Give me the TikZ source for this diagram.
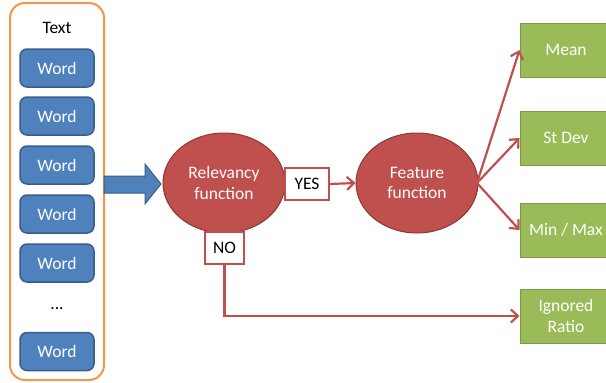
\documentclass[tikz,border=0pt]{standalone}
\usepackage{fontspec}
\setmainfont{Carlito}
\usetikzlibrary{arrows.meta,shapes.geometric}
\definecolor{orangeb}{HTML}{F79646}
\definecolor{blueF}{HTML}{4F81BD}
\definecolor{blueD}{HTML}{385D8A}
\definecolor{redF}{HTML}{C0504D}
\definecolor{redD}{HTML}{8C3836}
\definecolor{greenF}{HTML}{9BBB59}
\definecolor{greenD}{HTML}{71893F}
\tikzset{
  txt/.style={font=\fontsize{17.5}{20.5}\selectfont},
  wordbox/.style={draw=blueD, fill=blueF, line width=1.5pt, rounded corners=7pt, minimum width=74pt, minimum height=38pt, text=white, txt},
  redell/.style={ellipse, draw=redD, fill=redF, line width=1pt, minimum width=122pt, minimum height=100pt, text=white, align=center, txt, inner sep=0pt},
  lab/.style={draw=redF, fill=white, line width=1.5pt, text=black, txt, inner sep=0pt},
  greenbox/.style={draw=greenD!70!greenF, fill=greenF, line width=1pt, minimum width=92pt, minimum height=54pt, text=white, align=center, txt, inner sep=0pt},
  redarrow/.style={draw=redF, line width=2.2pt, -{Straight Barb[length=7pt,width=13pt,line width=2.2pt]}},
}
\begin{document}
\begin{tikzpicture}[x=1pt,y=-1pt]
\useasboundingbox (0,0) rectangle (606,383);
\begin{scope}
\clip (0,0) rectangle (606,383);
% container
\node[draw=orangeb, line width=2pt, rounded corners=15pt, minimum width=94pt, minimum height=377pt, inner sep=0pt] (textbox) at (57,191.5) {};
\node[txt, text=black] (textlbl) at (57,28) {Text};
\node[wordbox] (w1) at (57,68) {Word};
\node[wordbox] (w2) at (57,116) {Word};
\node[wordbox] (w3) at (57,165) {Word};
\node[wordbox] (w4) at (57,214) {Word};
\node[wordbox] (w5) at (57,263) {Word};
\node[txt] (dots) at (57,309) {...};
\node[wordbox] (w6) at (57,351.5) {Word};
% big blue arrow
\coordinate (tip) at (161,184);
\draw[draw=blueD, fill=blueF, line width=1pt] (104,176) -- (145,176) -- (145,164) -- (tip) -- (145,204) -- (145,193) -- (104,193) -- cycle;
% ellipses
\node[redell] (rel) at (224,183) {Relevancy\\function};
\node[redell] (feat) at (417,183) {Feature\\function};
% YES / NO
\node[lab, minimum width=44pt, minimum height=32pt] (yes) at (307,184) {YES};
\node[lab, minimum width=39pt, minimum height=32pt] (no) at (224.5,248) {NO};
% green boxes
\node[greenbox] (mean) at (566,50) {Mean};
\node[greenbox] (std) at (566,138) {St Dev};
\node[greenbox] (mm) at (566,230) {Min / Max};
\node[greenbox] (ign) at (566,316) {Ignored\\Ratio};
% arrows
\draw[redarrow] (yes.east) -- (feat.west);
\coordinate (fo) at (477,183);
\draw[redarrow] (fo) -- (mean.west);
\draw[redarrow] (fo) -- (std.west);
\draw[redarrow] (fo) -- (mm.west);
\draw[redarrow] (no.south) |- (ign.west);
\end{scope}
\end{tikzpicture}
\end{document}
